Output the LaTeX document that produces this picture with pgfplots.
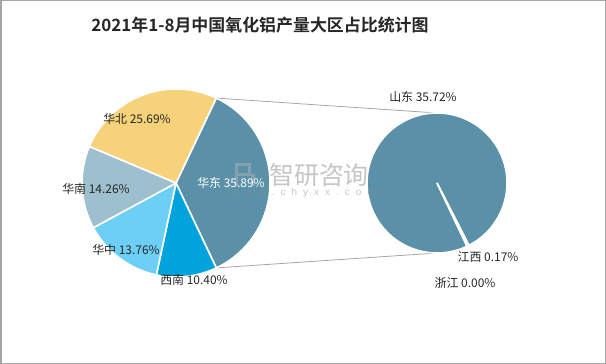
\documentclass[border=0pt]{standalone}
\usepackage{pgfplots}
\pgfplotsset{compat=1.18}
\usepackage{pgfplotstable}
\usepackage{fontspec}
\setmainfont{Liberation Sans}
\newfontfamily\cjk{Noto Sans CJK SC}
\newfontfamily\cjkb{Noto Sans CJK SC}[BoldFont=* Bold]
\definecolor{cEast}{HTML}{5B91A8}
\definecolor{cSW}{HTML}{00A3DB}
\definecolor{cCentral}{HTML}{6DCFF6}
\definecolor{cSouth}{HTML}{9DBFCE}
\definecolor{cNorth}{HTML}{F6D37B}
\definecolor{cLine}{HTML}{A6A6A6}
\definecolor{cText}{HTML}{262626}

% left pie: share of each region (%), clockwise from the top-right
\pgfplotstableread{
region pct
East 35.89
SouthWest 10.40
Central 13.76
South 14.26
North 25.69
}\leftdata
% right pie: breakdown of East China (%)
\pgfplotstableread{
prov pct
Shandong 35.72
Jiangxi 0.17
Zhejiang 0.00
}\rightdata

\begin{document}
\begin{tikzpicture}
% read values
\pgfplotstablegetelem{0}{pct}\of\leftdata \pgfmathsetmacro\pA{\pgfplotsretval}
\pgfplotstablegetelem{1}{pct}\of\leftdata \pgfmathsetmacro\pB{\pgfplotsretval}
\pgfplotstablegetelem{2}{pct}\of\leftdata \pgfmathsetmacro\pC{\pgfplotsretval}
\pgfplotstablegetelem{3}{pct}\of\leftdata \pgfmathsetmacro\pD{\pgfplotsretval}
\pgfplotstablegetelem{4}{pct}\of\leftdata \pgfmathsetmacro\pE{\pgfplotsretval}
\pgfplotstablegetelem{0}{pct}\of\rightdata \pgfmathsetmacro\qA{\pgfplotsretval}
\pgfplotstablegetelem{1}{pct}\of\rightdata \pgfmathsetmacro\qB{\pgfplotsretval}
\pgfmathsetmacro\tot{\pA+\pB+\pC+\pD+\pE}
\pgfmathsetmacro\bA{\pA/\tot*360/2}
\pgfmathsetmacro\bB{\bA-\pA/\tot*360}
\pgfmathsetmacro\bC{\bB-\pB/\tot*360}
\pgfmathsetmacro\bD{\bC-\pC/\tot*360}
\pgfmathsetmacro\bE{\bD-\pD/\tot*360}
\pgfmathsetmacro\bF{\bE-\pE/\tot*360}
\pgfmathsetmacro\rsum{\qA+\qB}
\pgfmathsetmacro\jA{-63.75+\qB/\rsum*360/2}
\pgfmathsetmacro\jB{\jA-\qB/\rsum*360}
\pgfmathsetmacro\sEnd{\jB-\qA/\rsum*360}
\begin{axis}[
  width=606bp, height=364bp, scale only axis,
  xmin=0, xmax=606, ymin=0, ymax=364,
  hide axis, clip=false,
]
% frame
\draw[cLine, line width=1.5bp] (axis cs:0.75,0.75) rectangle (axis cs:605.25,363.25);
% title
\node[text=cText, font=\cjkb\bfseries\fontsize{17}{20}\selectfont] at (axis cs:260,339) {2021年1-8月中国氧化铝产量大区占比统计图};
% connectors
\draw[cLine, line width=0.8bp] (axis cs:176,181) ++(\bA:94bp) -- (axis cs:437,251);
\draw[cLine, line width=0.8bp] (axis cs:176,181) ++(\bB:94bp) -- (axis cs:437,111);
% left pie
\filldraw[fill=cEast, draw=white, line width=1.6bp] (axis cs:176,181) -- ++(\bA:94bp) arc[start angle=\bA, end angle=\bB, radius=94bp] -- cycle;
\filldraw[fill=cSW, draw=white, line width=1.6bp] (axis cs:176,181) -- ++(\bB:94bp) arc[start angle=\bB, end angle=\bC, radius=94bp] -- cycle;
\filldraw[fill=cCentral, draw=white, line width=1.6bp] (axis cs:176,181) -- ++(\bC:94bp) arc[start angle=\bC, end angle=\bD, radius=94bp] -- cycle;
\filldraw[fill=cSouth, draw=white, line width=1.6bp] (axis cs:176,181) -- ++(\bD:94bp) arc[start angle=\bD, end angle=\bE, radius=94bp] -- cycle;
\filldraw[fill=cNorth, draw=white, line width=1.6bp] (axis cs:176,181) -- ++(\bE:94bp) arc[start angle=\bE, end angle=\bF, radius=94bp] -- cycle;
% right pie
\filldraw[fill=cEast, draw=white, line width=1.6bp] (axis cs:437,181) -- ++(\jB:70bp) arc[start angle=\jB, end angle=\sEnd, radius=70bp] -- cycle;
\filldraw[fill=cEast, draw=white, line width=1.6bp] (axis cs:437,181) -- ++(\jA:70bp) arc[start angle=\jA, end angle=\jB, radius=70bp] -- cycle;
% watermark
\node[text=black!45, opacity=0.5, font=\cjk\fontsize{25}{28}\selectfont] at (axis cs:319,189) {智研咨询};
\node[text=black!45, opacity=0.5, font=\fontsize{10}{12}\selectfont] at (axis cs:304,171) {w\hspace{6bp}w\hspace{6bp}w\hspace{6bp}.\hspace{6bp}c\hspace{6bp}h\hspace{6bp}y\hspace{6bp}x\hspace{6bp}x\hspace{6bp}.\hspace{6bp}c\hspace{6bp}o\hspace{6bp}m};
\draw[black!30, opacity=0.5, line width=3bp] (axis cs:236,178) -- (axis cs:236,199) -- (axis cs:249,199) -- (axis cs:249,189) -- (axis cs:237,189);
\fill[black!30, opacity=0.5] (axis cs:251,178) rectangle (axis cs:255,190);
% labels
\def\lf{\cjk\fontsize{12}{14}\selectfont}
\node[text=cText, font=\lf] at (axis cs:137,245) {华北 25.69\%};
\node[text=cText, font=\lf] at (axis cs:96,175) {华南 14.26\%};
\node[text=cText, font=\lf] at (axis cs:126,114) {华中 13.76\%};
\node[text=cText, font=\lf] at (axis cs:194,84) {西南 10.40\%};
\node[text=white, font=\lf] at (axis cs:231,181) {华东 35.89\%};
\node[text=cText, font=\lf] at (axis cs:423,267) {山东 35.72\%};
\node[text=cText, font=\lf] at (axis cs:488,107) {江西 0.17\%};
\node[text=cText, font=\lf] at (axis cs:465,81) {浙江 0.00\%};
\end{axis}
\end{tikzpicture}
\end{document}
